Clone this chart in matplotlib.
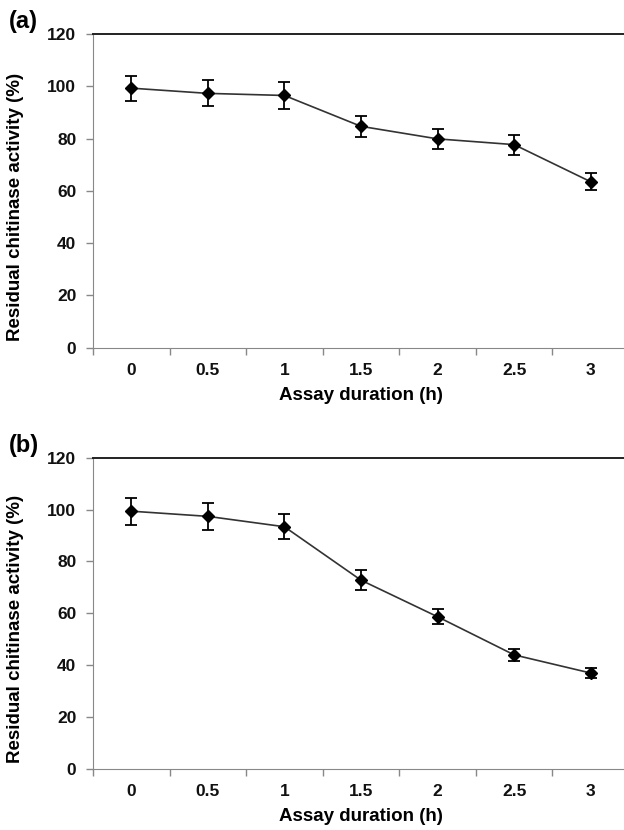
import numpy as np
import matplotlib
matplotlib.use("Agg")
import matplotlib.pyplot as plt
from matplotlib.ticker import FixedLocator

plt.rcParams['font.family'] = ['Liberation Sans', 'DejaVu Sans']

horas = ["0", "0.5", "1", "1.5", "2", "2.5", "3"]

actividad_a = [99.3, 97.3, 96.5, 84.7, 79.9, 77.7, 63.5]
error_a = [4.8, 5.0, 5.0, 4.0, 3.7, 3.8, 3.3]

actividad_b = [99.4, 97.4, 93.4, 72.8, 58.7, 44.0, 37.0]
error_b = [5.2, 5.2, 4.8, 3.9, 2.9, 2.4, 1.9]

yticks = [0, 20, 40, 60, 80, 100, 120]


def graficarPanel(ax, valores, errores):
    x = np.arange(len(horas))
    ax.plot(x, valores, color="#333333", linewidth=1.2, zorder=2)
    ax.errorbar(x, valores, yerr=errores, fmt="D", color="black",
                markersize=6, ecolor="black", elinewidth=1.3,
                capsize=4.5, capthick=1.3, zorder=3)

    ax.set_xlim(-0.5, len(horas) - 0.5)
    ax.set_ylim(0, 120)
    ax.set_yticks(yticks)
    ax.set_xticks(x)
    ax.set_xticklabels(horas)
    ax.xaxis.set_minor_locator(FixedLocator(np.arange(-0.5, len(horas), 1.0)))

    ax.tick_params(axis="x", which="major", length=0, pad=11)
    ax.tick_params(axis="x", which="minor", length=5, width=1,
                   color="#888888", direction="out")
    ax.tick_params(axis="y", length=5, width=1, color="#888888",
                   direction="out", pad=7)
    for lab in ax.get_xticklabels() + ax.get_yticklabels():
        lab.set_fontweight("bold")
        lab.set_fontsize(12.5)
        lab.set_color("#111111")

    ax.spines["right"].set_visible(False)
    ax.spines["left"].set_color("#888888")
    ax.spines["bottom"].set_color("#888888")
    ax.spines["top"].set_color("#222222")
    ax.spines["top"].set_linewidth(1.4)

    ax.set_xlabel("Assay duration (h)", fontsize=13.5, fontweight="bold")
    ax.set_ylabel("Residual chitinase activity (%)", fontsize=13.5,
                  fontweight="bold")
    ax.xaxis.set_label_coords(0.5, -0.125)
    ax.yaxis.set_label_coords(-0.128, 0.45)


fig = plt.figure(figsize=(6.24, 8.30), dpi=100)
ax_a = fig.add_axes([0.149, 0.581, 0.859, 0.378])
ax_b = fig.add_axes([0.149, 0.0735, 0.859, 0.375])

graficarPanel(ax_a, actividad_a, error_a)
graficarPanel(ax_b, actividad_b, error_b)

fig.text(0.014, 1 - 28 / 830, "(a)", fontsize=17, fontweight="bold",
         ha="left", va="baseline")
fig.text(0.014, 1 - 452 / 830, "(b)", fontsize=17, fontweight="bold",
         ha="left", va="baseline")

fig.savefig("out.png", dpi=100)
